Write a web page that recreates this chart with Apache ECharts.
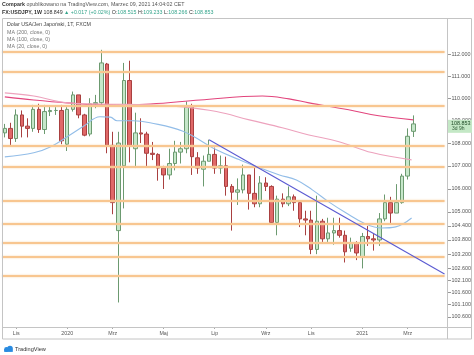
<!DOCTYPE html>
<html><head><meta charset="utf-8">
<script src="https://cdn.jsdelivr.net/npm/echarts@6/dist/echarts.min.js"></script>
<style>html,body{margin:0;padding:0;background:#fff}#c{width:474px;height:355px}</style>
</head><body><div id="c"></div>
<script>
// ---- data ----
const weeks = ['2019-10-21','2019-10-28','2019-11-04','2019-11-11','2019-11-18','2019-11-25','2019-12-02','2019-12-09','2019-12-16','2019-12-23','2019-12-30',
'2020-01-06','2020-01-13','2020-01-20','2020-01-27','2020-02-03','2020-02-10','2020-02-17','2020-02-24','2020-03-02','2020-03-09','2020-03-16','2020-03-23','2020-03-30',
'2020-04-06','2020-04-13','2020-04-20','2020-04-27','2020-05-04','2020-05-11','2020-05-18','2020-05-25','2020-06-01','2020-06-08','2020-06-15','2020-06-22','2020-06-29',
'2020-07-06','2020-07-13','2020-07-20','2020-07-27','2020-08-03','2020-08-10','2020-08-17','2020-08-24','2020-08-31','2020-09-07','2020-09-14','2020-09-21','2020-09-28',
'2020-10-05','2020-10-12','2020-10-19','2020-10-26','2020-11-02','2020-11-09','2020-11-16','2020-11-23','2020-11-30','2020-12-07','2020-12-14','2020-12-21','2020-12-28',
'2021-01-04','2021-01-11','2021-01-18','2021-01-25','2021-02-01','2021-02-08','2021-02-15','2021-02-22','2021-03-01','2021-03-08'];
const futureWeeks = ['2021-03-15','2021-03-22','2021-03-29','2021-04-05','2021-04-12'];
const opens  = [108.45,108.65,108.20,109.25,108.75,108.65,109.50,108.60,109.40,109.45,109.45,
107.95,109.50,110.15,109.25,108.40,109.75,109.80,111.55,107.90,104.20,107.00,110.80,107.75,
108.45,108.40,107.55,107.50,106.90,106.60,107.10,107.60,107.75,109.60,107.35,106.85,107.20,
107.50,106.90,107.00,106.10,105.85,105.95,106.60,105.80,105.35,106.25,106.10,104.55,105.55,
105.35,105.65,105.40,104.70,104.65,103.40,104.60,103.85,104.10,104.20,104.00,103.45,103.65,
103.10,103.95,103.85,103.80,104.70,105.40,104.95,105.40,106.55,108.52];
const closes = [108.65,108.20,109.25,108.75,108.65,109.50,108.60,109.40,109.45,109.45,108.10,
109.50,110.15,109.25,108.35,109.75,109.80,111.60,107.90,105.40,108.00,110.80,107.90,108.45,
108.40,107.55,107.50,106.90,106.60,107.10,107.60,107.75,109.60,107.40,106.90,107.20,107.50,
106.90,107.00,106.10,105.85,105.95,106.60,105.80,105.35,106.25,106.10,104.55,105.55,105.35,
105.65,105.40,104.70,104.65,103.40,104.60,103.85,104.10,104.20,104.00,103.30,103.65,103.25,
103.95,103.85,103.80,104.70,105.40,104.95,105.40,106.55,108.30,108.85];
const lows   = [108.25,107.90,108.05,108.25,108.25,108.50,108.45,108.40,109.20,109.25,107.95,
107.65,109.40,109.10,108.30,108.30,109.55,109.70,107.55,104.90,101.18,105.15,107.15,106.90,
108.00,106.95,107.25,106.35,105.99,106.40,106.80,107.10,107.55,106.60,106.65,106.10,107.20,
106.65,106.65,105.70,104.20,105.30,105.80,105.10,105.20,105.20,105.90,104.50,104.00,105.20,
105.25,105.05,104.35,104.00,103.20,103.20,103.65,103.65,103.60,103.90,102.85,103.30,102.95,
102.60,103.55,103.35,103.55,104.60,104.50,104.95,105.35,106.40,108.27];
const highs  = [108.85,108.90,109.50,109.45,109.10,109.70,109.75,109.70,109.65,109.60,109.70,
109.60,110.30,110.15,109.30,110.00,110.15,112.20,111.60,108.50,108.50,111.60,111.70,109.35,
109.10,108.50,108.05,107.55,107.00,107.75,108.10,108.05,109.85,109.75,107.60,107.45,108.15,
107.80,107.45,107.40,106.20,106.45,107.05,106.60,106.95,106.55,106.50,106.15,105.70,105.80,
106.10,105.75,105.50,105.05,105.05,105.70,104.70,104.75,104.75,104.75,104.20,103.90,103.75,
104.10,104.40,104.05,104.95,105.75,105.65,106.20,106.65,108.65,109.23];
const ma200 = [[0,110.06],[5.1,109.92],[11,109.79],[16.8,109.70],[25.6,109.74],[34.4,109.92],[45.4,110.10],[50.1,109.97],[53.6,109.79],[60.6,109.48],[65.9,109.21],[72,109.03]];
const ma100 = [[0,110.24],[5.1,110.10],[11,109.79],[16.8,109.74],[25.6,109.70],[31.4,109.61],[37.3,109.40],[43.1,109.03],[48.9,108.68],[53.6,108.36],[58.9,108.06],[64.7,107.58],[71.7,107.26]];
const ma20  = [[0,107.39],[5.1,107.57],[8.1,107.84],[11,108.28],[13.8,108.73],[16.8,109.17],[18.6,109.15],[19.8,108.99],[22.6,108.99],[25.6,108.90],[31.4,108.52],[37.3,107.70],[41.4,107.26],[44.9,106.91],[48.4,106.60],[51.4,106.38],[54.2,105.95],[57.1,105.43],[60.1,104.96],[63.6,104.48],[66.4,104.31],[68.9,104.36],[71.7,104.74]];
const trendLine = [[36,108.15],[77.5,102.37]];
const levels = [112.12,111.2,109.65,107.88,106.96,105.5,104.5,103.68,103.07,102.3];
const priceTicks = [112,111,110,109,108,107,106,105,104.4,103.8,103.2,102.6,102.1,101.6,101.1,100.6];
const timeTickIdx = [2,11,19,28,37,46,54,63,71];
const timeTickText = ['Lis','2020','Mrz','Maj','Lip','Wrz','Lis','2021','Mrz'];
const lastPrice = 108.853;

// ---- chart ----
const FONT = 'Liberation Sans, Arial, sans-serif';
const chart = echarts.init(document.getElementById('c'));
const categories = weeks.concat(futureWeeks);
const candles = opens.map((o, i) => [o, closes[i], lows[i], highs[i]]);

const option = {
  animation: false,
  grid: {left: 2, right: 27, top: 18, bottom: 28, show: false},
  xAxis: [
    {type: 'category', data: categories, boundaryGap: true,
     axisLine: {show: false},
     axisTick: {show: true, alignWithLabel: true, interval: (i) => timeTickIdx.includes(i), length: 2, lineStyle: {color: '#aaa'}},
     axisLabel: {interval: (i) => timeTickIdx.includes(i), formatter: (v, i) => timeTickText[timeTickIdx.indexOf(i)],
                 fontSize: 5.3, color: '#555', margin: 4, fontFamily: FONT},
     splitLine: {show: false}},
    {type: 'value', min: -0.5, max: categories.length - 0.5, show: false}
  ],
  yAxis: {type: 'log', logBase: 10, min: 100.17, max: 113.67, position: 'right',
    axisLine: {show: false}, splitLine: {show: false}, axisTick: {show: false},
    axisLabel: {customValues: priceTicks, formatter: (v) => Number(v).toFixed(3), fontSize: 5.4, color: '#555', margin: 7, fontFamily: FONT}},
  series: [
    {type: 'line', data: [], xAxisIndex: 0, z: 1, silent: true,
     markLine: {symbol: ['none', 'none'], silent: true, animation: false, label: {show: false},
       lineStyle: {color: '#f8c690', width: 2.2, type: 'solid', opacity: 1, shadowColor: 'rgba(250,210,160,0.9)', shadowBlur: 2},
       data: levels.map(v => ({yAxis: v}))}},
    {type: 'candlestick', data: candles, xAxisIndex: 0, z: 3, barWidth: 4,
     itemStyle: {color: '#c6e7ca', color0: '#e06868', borderColor: '#6c9a70', borderColor0: '#a94040', borderWidth: 1}},
    {type: 'line', data: ma200, xAxisIndex: 1, smooth: 0.4, showSymbol: false, z: 4, lineStyle: {color: '#e2447c', width: 1.1}},
    {type: 'line', data: ma100, xAxisIndex: 1, smooth: 0.4, showSymbol: false, z: 4, lineStyle: {color: '#eda2bd', width: 1.1}},
    {type: 'line', data: ma20, xAxisIndex: 1, smooth: 0.4, showSymbol: false, z: 4, lineStyle: {color: '#92bde8', width: 1.1}},
    {type: 'line', data: trendLine, xAxisIndex: 1, showSymbol: false, z: 5, lineStyle: {color: '#5a5ad2', width: 1.1}}
  ]
};
chart.setOption(option);

const py = chart.convertToPixel({yAxisIndex: 0}, lastPrice);
const txt = (left, top, text, rich, fill, size) => ({type: 'text', left, top, z: 50,
  style: {text, rich: rich || {}, fill: fill || '#555', fontSize: size || 5.3, fontFamily: FONT}});
const teal = {fill: '#35a58c', fontSize: 5.3, fontFamily: FONT};
const bold = {fontWeight: 'bold', fill: '#333', fontSize: 5.3, fontFamily: FONT};
const tickMarks = priceTicks.map(v => {
  const y = Math.round(chart.convertToPixel({yAxisIndex: 0}, v)) + 0.5;
  return {type: 'line', z: 40, shape: {x1: 448, y1: y, x2: 451, y2: y}, style: {stroke: '#999', lineWidth: 1}};
});
chart.setOption({graphic: [
  {type: 'rect', z: 40, shape: {x: 2.5, y: 18.5, width: 469, height: 320.5}, style: {fill: 'none', stroke: '#c4c4c4', lineWidth: 1}},
  {type: 'line', z: 40, shape: {x1: 447.5, y1: 18.5, x2: 447.5, y2: 339}, style: {stroke: '#c4c4c4', lineWidth: 1}},
  {type: 'line', z: 40, shape: {x1: 2.5, y1: 327.5, x2: 471.5, y2: 327.5}, style: {stroke: '#c4c4c4', lineWidth: 1}},
  ...tickMarks,
  txt(2, 2.5, '{b|Compark} opublikowano na TradingView.com, Marzec 09, 2021 14:04:02 CET', {b: bold}, '#555'),
  txt(2, 9.8, '{b|FX:USDJPY, 1W} 108.849 {g|▲ +0.017 (+0.02%)} O:{g|108.515} H:{g|109.233} L:{g|108.266} C:{g|108.853}',
      {b: bold, g: teal}, '#333'),
  txt(7, 22.5, 'Dolar USA/Jen Japoński, 1T, FXCM', null, '#444'),
  txt(7, 29.8, 'MA (200, close, 0)', null, '#777'),
  txt(7, 36.8, 'MA (100, close, 0)', null, '#777'),
  txt(7, 43.8, 'MA (20, close, 0)', null, '#777'),
  {type: 'rect', z: 45, shape: {x: 448, y: py - 4, width: 24, height: 13}, style: {fill: '#c4e8c6'}},
  txt(451, py - 3.2, '108.853', {}, '#1e4a25', 5.4),
  txt(452, py + 2.3, '3d 9h', null, '#2e5a35', 5),
  {type: 'circle', z: 45, shape: {cx: 6.5, cy: 349.5, r: 2.4}, style: {fill: '#2a8be0'}},
  {type: 'circle', z: 45, shape: {cx: 10, cy: 348.5, r: 2.8}, style: {fill: '#2a8be0'}},
  {type: 'rect', z: 45, shape: {x: 4.2, y: 349.3, width: 8.6, height: 2.6}, style: {fill: '#2a8be0'}},
  txt(15, 346.5, 'TradingView', null, '#333', 5.6)
]});
</script></body></html>
